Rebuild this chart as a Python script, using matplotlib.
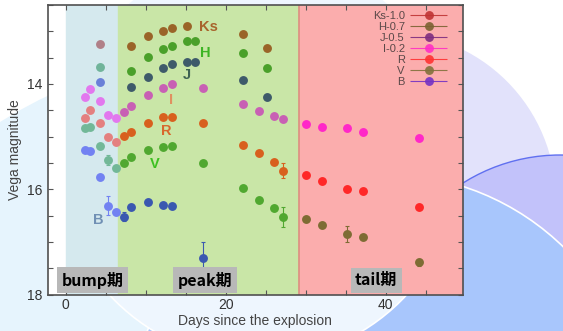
import numpy as np
import matplotlib
matplotlib.use('Agg')
from matplotlib import pyplot as plt
from matplotlib.patches import Circle
from matplotlib.transforms import IdentityTransform
from matplotlib.container import ErrorbarContainer
from matplotlib.legend_handler import HandlerErrorbar

plt.rcParams['font.family'] = ['Liberation Sans', 'DejaVu Sans']

# light curve (days since explosion, Vega mag)
ks_day = [4.3, 8.2, 10.25, 12.2, 13.3, 15.2, 22.1, 25.1]
ks_mag = [13.24, 13.27, 13.08, 12.99, 12.94, 12.89, 13.06, 13.31]

h_day = [4.3, 8.2, 10.25, 12.2, 13.3, 15.2, 16.15, 22.1, 25.1]
h_mag = [13.67, 13.76, 13.49, 13.34, 13.28, 13.19, 13.19, 13.42, 13.70]

j_day = [4.3, 8.2, 10.25, 12.2, 13.3, 15.2, 16.15, 22.1, 25.1]
j_mag = [13.96, 14.06, 13.87, 13.69, 13.62, 13.58, 13.58, 13.92, 14.24]

opt_day = [2.45, 3.1, 4.3, 5.25, 6.25, 7.25, 8.2, 10.25, 12.2, 13.3, 17.1,
           22.1, 24.2, 26.0, 27.15, 30.05, 32.05, 35.15, 37.1, 44.1]
i_mag = [14.25, 14.10, 14.32, 14.59, 14.65, 14.53, 14.42, 14.21, 14.07, 14.01, 14.08,
         14.39, 14.51, 14.61, 14.66, 14.76, 14.82, 14.84, 14.91, 15.03]
r_mag = [14.65, 14.50, 14.75, 15.01, 15.10, 14.99, 14.91, 14.75, 14.63, 14.63, 14.75,
         15.15, 15.32, 15.49, 15.65, 15.72, 15.85, 15.99, 16.03, 16.33]
r_err = [0, 0, 0, 0, 0, 0, 0, 0, 0, 0, 0,
         0, 0, 0, 0.14, 0, 0, 0, 0, 0]
v_mag = [14.83, 14.82, 15.18, 15.44, 15.60, 15.51, 15.38, 15.26, 15.19, 15.18, 15.51,
         15.97, 16.20, 16.35, 16.52, 16.56, 16.68, 16.85, 16.91, 17.39]
v_err = [0, 0, 0, 0.1, 0, 0, 0, 0, 0, 0, 0,
         0, 0, 0, 0.19, 0, 0, 0.15, 0, 0.06]

b_day = [2.45, 3.1, 4.3, 5.25, 6.25, 7.25, 8.2, 10.25, 12.2, 13.3, 17.1]
b_mag = [15.25, 15.27, 15.77, 16.31, 16.44, 16.52, 16.34, 16.24, 16.30, 16.32, 17.30]
b_err = [0.05, 0, 0, 0.18, 0, 0.08, 0, 0, 0, 0, 0.3]

legend_labels = ['Ks-1.0', 'H-0.7', 'J-0.5', 'I-0.2', 'R', 'V', 'B']
legend_colors = ['#c03434', '#7c6232', '#7e2c80', '#ff30c4', '#ff3232', '#82723c', '#7432c4']

phases = ['bump期', 'peak期', 'tail期']
phase_x = [3.4, 17.4, 38.8]
bump_end, peak_end = 6.55, 29.2

# colours of the dots as they look under each shaded phase (bump, peak, tail)
band_colors = {
    'Ks': ('#b08088', '#9a6428', '#c03434'),
    'H': ('#70b49a', '#4aa02a', '#7c6232'),
    'J': ('#6a80d8', '#3e5a6a', '#7e2c80'),
    'I': ('#e278ee', '#c860b4', '#ff28c8'),
    'R': ('#e48080', '#d8601e', '#ff2828'),
    'V': ('#72b898', '#50a830', '#7e6c34'),
    'B': ('#7282f2', '#3a58b0', '#7432c4'),
}

fig = plt.figure(figsize=(5.63, 3.31), dpi=100)

# decorative background circles (pixel coords, y from top)
def bgcircle(x, y, r, fc, ec='none', lw=0):
    fig.patches.append(Circle((x, 331 - y), r, transform=IdentityTransform(),
                              fc=fc, ec=ec, lw=lw, zorder=-10))

bgcircle(250, 520, 470, '#e6f4fd')
bgcircle(388, 200, 168, '#e2e2fb')
bgcircle(560, 337, 182, '#c2c2fa', '#6070f0', 1.0)
bgcircle(384, 431, 257, '#a8c6fc', 'white', 1.2)
bgcircle(258, 158, 202, '#eef6fe', 'white', 1.2)

ax = fig.add_axes([0.0847, 0.110, 0.737, 0.875])
ax.set_facecolor('white')
ax.axvspan(0, bump_end, color='#d5e9ee', zorder=0)
ax.axvspan(bump_end, peak_end, color='#c9e6a7', zorder=0)
ax.axvspan(peak_end, 60, color='#fbadad', zorder=0)
ax.axvline(peak_end, color='#dc9080', lw=1.2, zorder=0.5)


def draw_band(name, days, mags, errs=None):
    days = np.asarray(days)
    mags = np.asarray(mags)
    errs = np.zeros(len(days)) if errs is None else np.asarray(errs)
    phase = np.where(days < bump_end, 0, np.where(days < peak_end, 1, 2))
    for k in range(3):
        m = phase == k
        if not m.any():
            continue
        c = band_colors[name][k]
        ax.errorbar(days[m], mags[m], yerr=errs[m], fmt='o', ms=6.4, color=c,
                    mec='none', ecolor=c, elinewidth=0.8, capsize=1.6, capthick=0.8, zorder=3)


draw_band('Ks', ks_day, ks_mag)
draw_band('H', h_day, h_mag)
draw_band('J', j_day, j_mag)
draw_band('I', opt_day, i_mag)
draw_band('R', opt_day, r_mag, r_err)
draw_band('V', opt_day, v_mag, v_err)
draw_band('B', b_day, b_mag, b_err)

# band names next to the curves
kw = dict(fontsize=10.5, fontweight='bold', ha='center', va='center', zorder=4)
ax.text(17.9, 12.91, 'Ks', color='#a8642c', **kw)
ax.text(17.5, 13.42, 'H', color='#3cb424', **kw)
ax.text(15.1, 13.83, 'J', color='#3e6252', **kw)
ax.text(13.2, 14.30, 'I', color='#e09060', **kw)
ax.text(12.6, 14.90, 'R', color='#d8682c', **kw)
ax.text(11.1, 15.52, 'V', color='#3cc020', **kw)
ax.text(4.1, 16.58, 'B', color='#7090b4', **kw)

for lab, x in zip(phases, phase_x):
    ax.text(x, 17.73, lab, fontsize=11.5, fontweight='bold', ha='center', va='center',
            family=['Noto Sans CJK JP', 'DejaVu Sans'], color='black', zorder=5,
            bbox=dict(boxstyle='square,pad=0.28', fc='#b8b8b8', ec='none'))

# legend with horizontal error-bar samples, gnuplot style
handles = []
for c in legend_colors:
    h = ax.errorbar([], [], xerr=[], fmt='o', ms=6.4, color=c, mec='none',
                    ecolor=c, elinewidth=0.8, capsize=1.6, alpha=0.9)
    handles.append(h)
leg = ax.legend(handles, legend_labels, loc='upper right', bbox_to_anchor=(0.962, 0.978),
                frameon=False, markerfirst=False, fontsize=8, labelcolor='#5a4848',
                handlelength=3.3, handletextpad=0.5, labelspacing=0.08, borderpad=0,
                borderaxespad=0,
                handler_map={ErrorbarContainer: HandlerErrorbar(xerr_size=1.7)})
leg.set_zorder(6)

ax.set_xlim(-2.25, 49.6)
ax.set_ylim(18, 12.5)
ax.set_xticks([0, 20, 40])
ax.set_xticks(np.arange(0, 50, 5), minor=True)
ax.set_yticks([14, 16, 18])
ax.set_yticks(np.arange(12.5, 18.01, 0.5), minor=True)
ax.tick_params(which='both', direction='in', top=True, right=True, length=3.5,
               width=0.8, color='#555555', labelsize=10, labelcolor='#333333')
ax.tick_params(axis='x', pad=2.5)
for s in ax.spines.values():
    s.set_color('#505050')
    s.set_linewidth(1.2)
ax.set_xlabel('Days since the explosion', fontsize=10, color='#444444', labelpad=1.5)
ax.set_ylabel('Vega magnitude', fontsize=10, color='#444444', labelpad=4)

fig.savefig('out.png', dpi=100)
